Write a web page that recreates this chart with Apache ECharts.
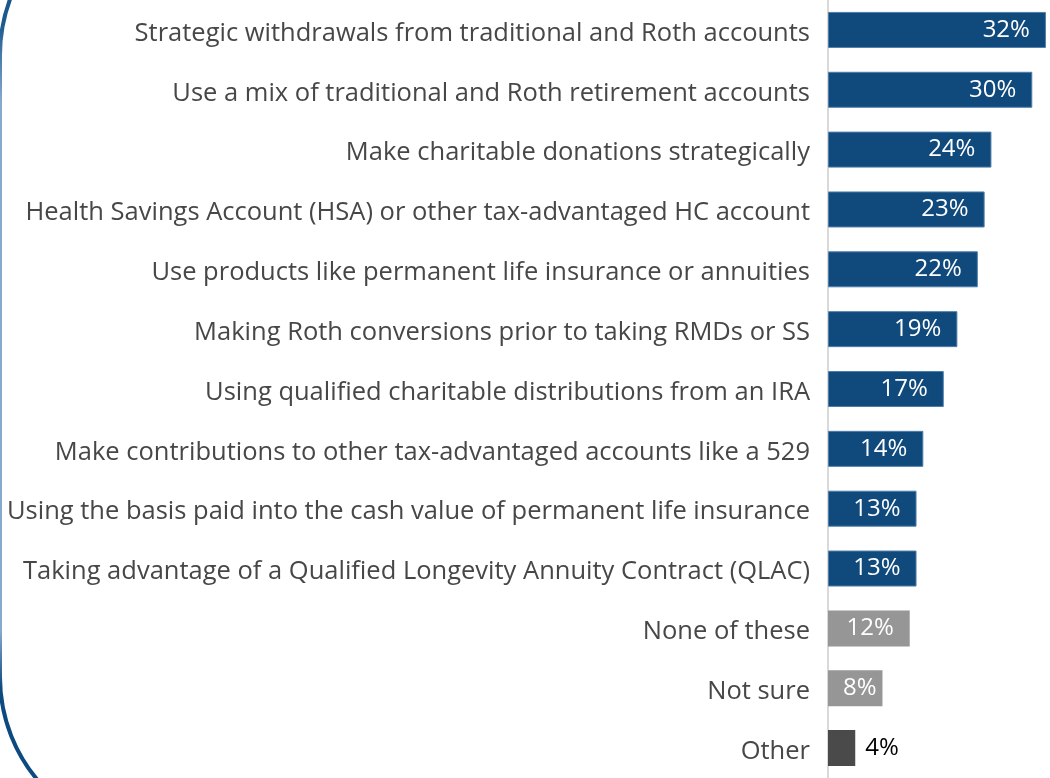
<!DOCTYPE html>
<html>
<head>
<meta charset="utf-8">
<script src="https://cdn.jsdelivr.net/npm/echarts@6/dist/echarts.min.js"></script>
<style>
  html, body { margin: 0; padding: 0; background: #fff; }
  #main { width: 1050px; height: 778px; }
</style>
</head>
<body>
<div id="main"></div>
<script>
const categories = [
    'Strategic withdrawals from traditional and Roth accounts',
    'Use a mix of traditional and Roth retirement accounts',
    'Make charitable donations strategically',
    'Health Savings Account (HSA) or other tax-advantaged HC account',
    'Use products like permanent life insurance or annuities',
    'Making Roth conversions prior to taking RMDs or SS',
    'Using qualified charitable distributions from an IRA',
    'Make contributions to other tax-advantaged accounts like a 529',
    'Using the basis paid into the cash value of permanent life insurance',
    'Taking advantage of a Qualified Longevity Annuity Contract (QLAC)',
    'None of these',
    'Not sure',
    'Other'
];
const values = [32, 30, 24, 23, 22, 19, 17, 14, 13, 13, 12, 8, 4];
// bar group: strategy / none-or-unsure / other
const groups = ['s', 's', 's', 's', 's', 's', 's', 's', 's', 's', 'n', 'n', 'o'];

const blue = '#10497c';
const gray = '#969696';
const darkGray = '#4a4a4a';
const fontFamily = 'Open Sans';

const chart = echarts.init(document.getElementById('main'));

// 각 막대 색상과 라벨 위치를 그룹에 맞게 설정
const seriesData = values.map((v, i) => {
    const g = groups[i];
    if (g === 's') {
        return {
            value: v,
            itemStyle: { color: blue, borderColor: '#4f7eaa', borderWidth: 1 },
            label: { position: 'insideRight', distance: 16, color: '#fff' }
        };
    }
    if (g === 'n') {
        return {
            value: v,
            itemStyle: { color: gray },
            label: { position: 'insideRight', distance: v < 10 ? 6 : 16, color: '#fff' }
        };
    }
    return {
        value: v,
        itemStyle: { color: darkGray },
        label: { position: 'right', distance: 10, color: '#000' }
    };
});

const option = {
    animation: false,
    backgroundColor: '#fff',
    grid: {
        left: 828,
        right: 0,
        top: -6,
        bottom: -6
    },
    xAxis: {
        type: 'value',
        min: 0,
        max: 32.6,
        show: false
    },
    yAxis: {
        type: 'category',
        inverse: true,
        data: categories,
        axisTick: { show: false },
        axisLine: { lineStyle: { color: '#d9d9d9', width: 2 } },
        axisLabel: {
            margin: 18,
            formatter: v => '{t|' + v + '}',
            rich: {
                t: {
                    color: '#474747',
                    fontFamily: fontFamily,
                    fontSize: 25.5,
                    padding: [7, 0, 0, 0]
                }
            }
        }
    },
    series: [{
        type: 'bar',
        barWidth: 36,
        data: seriesData,
        label: {
            show: true,
            formatter: '{c}%',
            fontFamily: fontFamily,
            fontSize: 24
        }
    }],
    graphic: [{
        // 왼쪽 둥근 테두리 장식
        type: 'rect',
        silent: true,
        shape: { x: 0, y: -105, width: 1300, height: 942, r: 160 },
        style: {
            fill: 'none',
            lineWidth: 4,
            stroke: {
                type: 'linear', x: 0, y: 0, x2: 0, y2: 1,
                colorStops: [
                    { offset: 0, color: '#0d4a80' },
                    { offset: 0.14, color: '#1c5a90' },
                    { offset: 0.22, color: '#86aace' },
                    { offset: 0.78, color: '#86aace' },
                    { offset: 0.84, color: '#0d4a80' },
                    { offset: 1, color: '#0d4a80' }
                ]
            }
        }
    }]
};

chart.setOption(option);
</script>
</body>
</html>
